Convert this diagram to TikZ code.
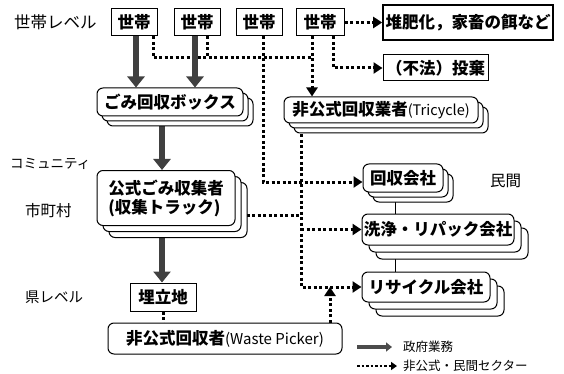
\documentclass[tikz,border=0pt]{standalone}
\usepackage{fontspec}
\setmainfont{Noto Sans CJK JP}
\usetikzlibrary{arrows.meta,shadows,backgrounds}
\tikzset{
  bx/.style={draw, fill=white, line width=1pt, inner sep=0pt,
    font=\bfseries\fontsize{16.5}{19}\selectfont},
  stack/.style={bx, rounded corners=6pt,
    double copy shadow={shadow xshift=#1, shadow yshift=-#1}},
  stack/.default=5pt,
  lbl/.style={anchor=west, inner sep=0pt, font=\fontsize{15.5}{18}\selectfont},
  dotline/.style={line width=3pt, dash pattern=on 3pt off 2.5pt, black},
  dotarr/.style={dotline, -{Triangle[length=9pt,width=11pt]}},
  thickarr/.style={line width=6.5pt, black!75, -{Triangle[length=11pt,width=17pt]}},
  legthick/.style={line width=4pt, black!70, -{Triangle[length=6pt,width=9pt]}},
  legdot/.style={line width=2.2pt, dash pattern=on 2.5pt off 2pt, -{Triangle[length=6pt,width=8pt]}},
  thinline/.style={line width=0.6pt}
}
\begin{document}
\begin{tikzpicture}[x=1pt,y=-1pt]
\useasboundingbox (0,0) rectangle (564,374);

% left labels
\node[lbl, font=\fontsize{16.5}{19}\selectfont] (l1) at (14,22) {世帯レベル};
\node[lbl, font=\fontsize{13.5}{16}\selectfont] (l2) at (10,164) {コミュニティ};
\node[lbl] (l3) at (25,211) {市町村};
\node[lbl, font=\fontsize{14.5}{17}\selectfont] (l4) at (25,297) {県レベル};
\node[lbl] (l5) at (490,181) {民間};

% households
\node[bx, minimum width=46pt, minimum height=27pt] (h1) at (134,22.5) {世帯};
\node[bx, minimum width=46pt, minimum height=27pt] (h2) at (197,22.5) {世帯};
\node[bx, minimum width=46pt, minimum height=27pt] (h3) at (259,22.5) {世帯};
\node[bx, minimum width=48pt, minimum height=27pt] (h4) at (320,22.5) {世帯};

\node[bx, line width=1.6pt, minimum width=170pt, minimum height=35pt] (compost) at (468,22.5) {堆肥化，家畜の餌など};
\node[bx, minimum width=105pt, minimum height=26pt] (fuhou) at (435.5,68) {（不法）投棄};

\node[stack, minimum width=146pt, minimum height=28pt] (gbox) at (170,102) {ごみ回収ボックス};
\node[stack, minimum width=194pt, minimum height=26pt] (tri) at (381,110) {非公式回収業者\mdseries\fontsize{14.5}{16}\selectfont(Tricycle)};

\node[stack=6pt, minimum width=138pt, minimum height=55pt, align=left] (official) at (166,198) {公式ごみ収集者\\(収集トラック)};

\node[stack, minimum width=80pt, minimum height=28pt] (kaisha) at (403,178) {回収会社};
\node[stack=7pt, minimum width=152pt, minimum height=31pt] (senjo) at (438,229.5) {洗浄・リパック会社};
\node[stack=7pt, minimum width=128pt, minimum height=30pt] (recyc) at (426,287) {リサイクル会社};

\node[bx, minimum width=66pt, minimum height=28pt] (landfill) at (163,297) {埋立地};
\node[bx, rounded corners=6pt, minimum width=234pt, minimum height=31pt] (picker) at (225,338.5) {非公式回収者\mdseries\fontsize{15}{17}\selectfont(Waste Picker)};

% legend
\coordinate (la1) at (357,347);
\coordinate (la2) at (392,347);
\coordinate (lb1) at (357,366);
\coordinate (lb2) at (397,366);
\node[anchor=west, inner sep=0pt, font=\fontsize{12.5}{14}\selectfont] (lt1) at (403,347) {政府業務};
\node[anchor=west, inner sep=0pt, font=\fontsize{12.5}{14}\selectfont] (lt2) at (403,366) {非公式・民間セクター};
\draw[legthick] (la1) -- (la2);
\draw[legdot] (lb1) -- (lb2);

\begin{scope}[on background layer]
  \coordinate (j1) at (312,58);
  \coordinate (v) at ([xshift=-80pt]tri.south);
  % household dotted flows
  \draw[dotline] ([xshift=19pt]h1.south) |- (j1);
  \draw[dotline] ([xshift=10pt]h2.south) -- ([xshift=10pt]h2.south |- j1);
  \draw[dotarr] ([xshift=-8pt]h4.south) -- (j1) -- (j1 |- tri.north);
  \draw[dotarr] ([xshift=13pt]h4.south) |- (fuhou.west);
  \draw[dotarr] (h4.east) -- (compost.west);
  \draw[dotarr] ([xshift=4pt]h3.south) |- ([yshift=-4pt]kaisha.west);
  % tricycle vertical
  \draw[dotarr] (v) |- (recyc.west);
  \draw[dotline] ([yshift=-17pt]official.east) -- ([yshift=-17pt]official.east -| v);
  \draw[dotarr] (senjo.west -| v) -- (senjo.west);
  \draw[dotarr] ([xshift=105pt]picker.north) -- ([xshift=105pt]picker.north |- recyc.west);
  \draw[dotline] (landfill.south) -- (landfill.south |- picker.north);
  % thick government flows
  \draw[thickarr] ([xshift=2pt]h1.south) -- ([xshift=2pt]h1.south |- gbox.north);
  \draw[thickarr] ([xshift=-2pt]h2.south) -- ([xshift=-2pt]h2.south |- gbox.north);
  \draw[thickarr] ([xshift=-8pt]gbox.south) -- ([xshift=-8pt]gbox.south |- official.north);
  \draw[thickarr] ([xshift=-4pt]official.south) -- ([xshift=-4pt]official.south |- landfill.north);
  % thin links between companies
  \draw[thinline] ([xshift=-8pt]kaisha.south) -- ([xshift=-8pt]kaisha.south |- senjo.north);
  \draw[thinline] ([xshift=-43pt]senjo.south) -- ([xshift=-43pt]senjo.south |- recyc.north);
\end{scope}
\end{tikzpicture}
\end{document}
